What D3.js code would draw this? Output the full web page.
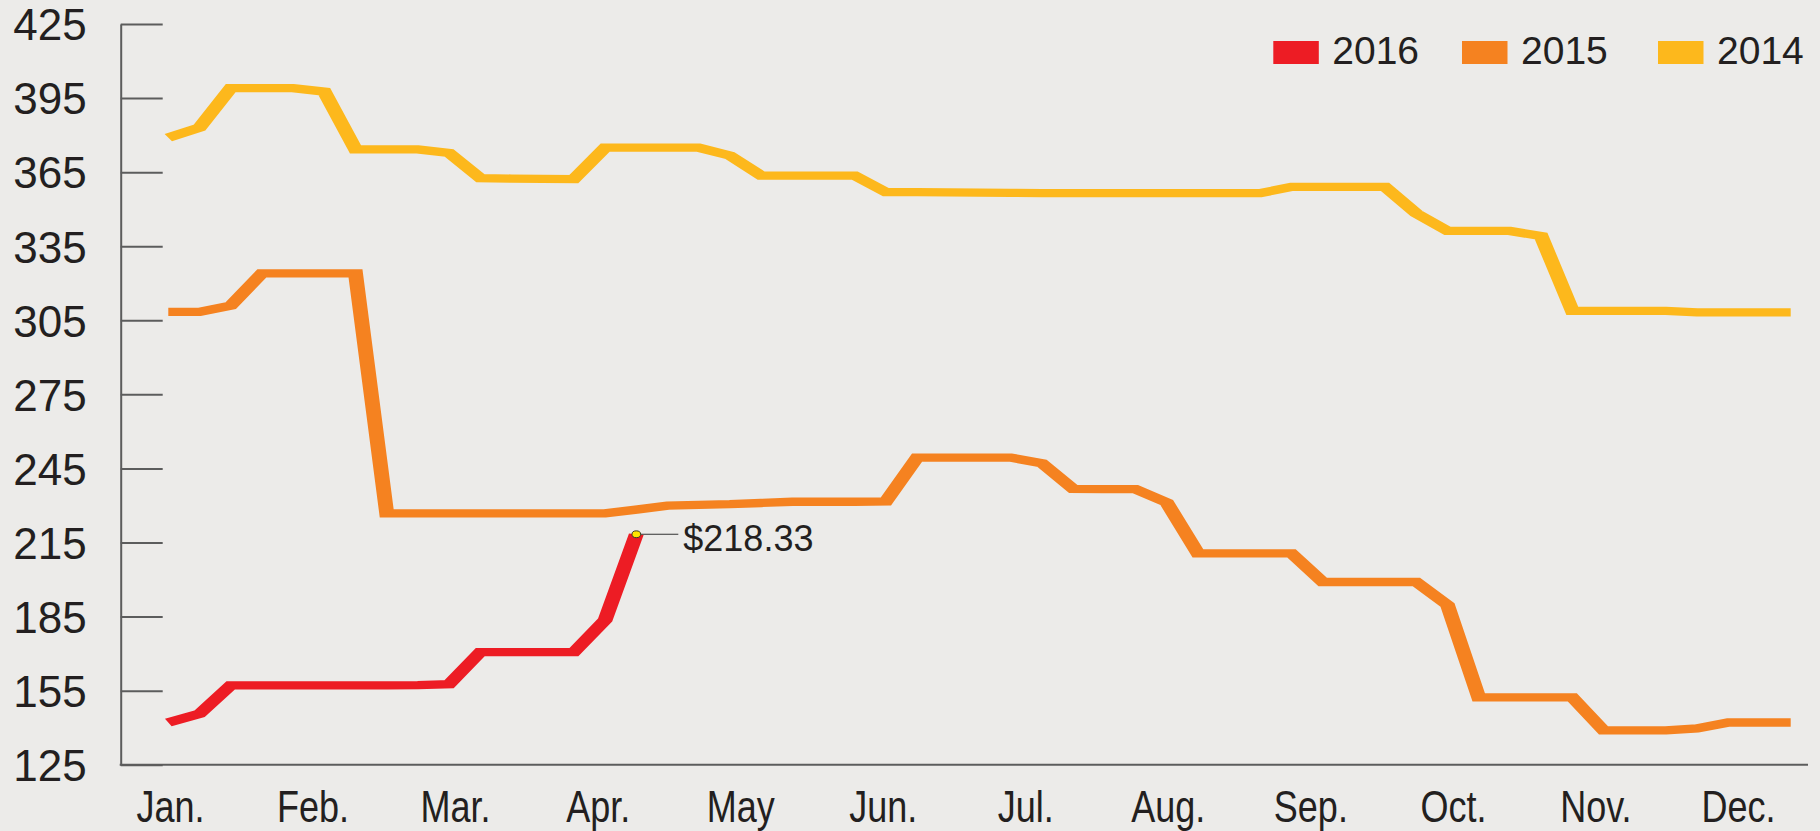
<!DOCTYPE html>
<html>
<head>
<meta charset="utf-8">
<script src="https://cdn.jsdelivr.net/npm/d3@7"></script>
<style>
  html, body { margin: 0; padding: 0; background: #ECEBE9; }
  svg { display: block; }
</style>
</head>
<body>
<script>
// ---------- data ----------
const months = ["Jan.", "Feb.", "Mar.", "Apr.", "May", "Jun.", "Jul.", "Aug.", "Sep.", "Oct.", "Nov.", "Dec."];
const yTicks = [125, 155, 185, 215, 245, 275, 305, 335, 365, 395, 425];
const seriesNames = ["2016", "2015", "2014"];
const seriesColors = ["#ED1C24", "#F58220", "#FDB81C"];

// weekly values (week 0 .. 52)
const values2014 = [379.0, 383.0, 399.0, 399.0, 399.0, 397.6, 374.2, 374.2, 374.2, 372.8,
  362.6, 362.4, 362.3, 362.2, 374.9, 374.9, 374.9, 374.9, 371.7, 363.6,
  363.6, 363.6, 363.6, 356.9, 356.9, 356.8, 356.7, 356.6, 356.5, 356.5,
  356.5, 356.5, 356.5, 356.5, 356.5, 356.5, 359.0, 359.0, 359.0, 359.0,
  348.3, 341.2, 341.2, 341.2, 339.1, 308.8, 308.8, 308.8, 308.8, 308.2,
  308.2, 308.2, 308.2];
const values2015 = [308.4, 308.4, 310.9, 324.0, 324.0, 324.0, 324.0, 226.8, 226.8, 226.8,
  226.8, 226.8, 226.8, 226.8, 226.8, 228.3, 229.9, 230.2, 230.5, 231.0,
  231.5, 231.5, 231.5, 231.6, 249.4, 249.4, 249.4, 249.4, 247.1, 236.7,
  236.6, 236.6, 231.2, 210.6, 210.6, 210.6, 210.6, 199.0, 199.0, 199.0,
  199.0, 189.7, 152.3, 152.3, 152.3, 152.3, 138.9, 138.9, 138.9, 139.7,
  142.1, 142.1, 142.1];
const values2016 = [142.1, 145.6, 157.1, 157.1, 157.1, 157.1, 157.1, 157.1, 157.2, 157.6,
  170.6, 170.6, 170.6, 170.6, 183.6, 218.33];
const lastLabel = "$218.33";

// ---------- layout ----------
const W = 1820, H = 831;
const axisX = 120.7, axisTop = 24, axisBottom = 764.7, axisRight = 1808;
const SX = 1.8; // horizontal stretch of the line pen

const svg = d3.select("body").append("svg").attr("width", W).attr("height", H);
svg.append("rect").attr("width", W).attr("height", H).attr("fill", "#ECEBE9");

const x = d3.scaleLinear().domain([0, 52]).range([168.3, 1790.7]);
const y = d3.scaleLinear().domain([125, 425]).range([axisBottom, axisTop]);
const xm = d3.scalePoint().domain(months).range([170, 1738]);

const textColor = "#231F20";
const axisColor = "#5C5C5C";

// y axis
const yAxis = d3.axisLeft(y).tickValues(yTicks).tickSizeInner(-42).tickSizeOuter(0).tickPadding(34);
const gy = svg.append("g").attr("transform", `translate(${axisX},0)`).call(yAxis);
gy.select(".domain").attr("stroke", axisColor).attr("stroke-width", 2);
gy.selectAll(".tick line").attr("stroke", axisColor).attr("stroke-width", 2);
gy.selectAll(".tick text")
  .attr("fill", textColor)
  .style("font-family", "'Liberation Sans', Arial, sans-serif")
  .style("font-size", "44px")
  .attr("dy", "0.36em");

// bottom axis line
svg.append("line")
  .attr("x1", axisX - 1).attr("x2", axisRight)
  .attr("y1", axisBottom).attr("y2", axisBottom)
  .attr("stroke", axisColor).attr("stroke-width", 2);

// month labels (condensed look)
const xAxis = d3.axisBottom(xm).tickSize(0).tickPadding(0);
const gx = svg.append("g").attr("transform", `translate(0,${axisBottom})`).call(xAxis);
gx.select(".domain").remove();
gx.selectAll(".tick text")
  .attr("fill", textColor)
  .attr("y", 0)
  .attr("dy", 0)
  .attr("transform", "translate(0,57) scale(0.8,1)")
  .style("font-family", "'Liberation Sans', Arial, sans-serif")
  .style("font-size", "45px");

// lines (drawn in a horizontally stretched group so the pen is wider than tall)
const lineGen = d3.line().x((d, i) => x(i) / SX).y(d => y(d));
const gl = svg.append("g").attr("transform", `scale(${SX},1)`);
const drawOrder = [[values2014, seriesColors[2]], [values2015, seriesColors[1]], [values2016, seriesColors[0]]];
drawOrder.forEach(([vals, col]) => {
  gl.append("path")
    .datum(vals)
    .attr("d", lineGen)
    .attr("fill", "none")
    .attr("stroke", col)
    .attr("stroke-width", 8.3)
    .attr("stroke-linejoin", "miter")
    .attr("stroke-miterlimit", 10)
    .attr("stroke-linecap", "butt");
});

// annotation of last 2016 value
const li = values2016.length - 1;
const px = x(li), py = y(values2016[li]);
svg.append("line")
  .attr("x1", px).attr("x2", px + 42)
  .attr("y1", py).attr("y2", py)
  .attr("stroke", "#333").attr("stroke-width", 1.2);
svg.append("ellipse")
  .attr("cx", px).attr("cy", py).attr("rx", 4.3).attr("ry", 3.4)
  .attr("fill", "#FFE500").attr("stroke", "#3a3a2a").attr("stroke-width", 1);
svg.append("text")
  .attr("x", px + 47).attr("y", py + 17)
  .attr("fill", textColor)
  .style("font-family", "'Liberation Sans', Arial, sans-serif")
  .style("font-size", "36px")
  .text(lastLabel);

// legend
const legendX = [1273.3, 1462, 1658];
const lg = svg.append("g");
seriesNames.forEach((name, i) => {
  lg.append("rect")
    .attr("x", legendX[i]).attr("y", 41)
    .attr("width", 45.5).attr("height", 23)
    .attr("fill", seriesColors[i]);
  lg.append("text")
    .attr("x", legendX[i] + 59).attr("y", 64)
    .attr("fill", textColor)
    .style("font-family", "'Liberation Sans', Arial, sans-serif")
    .style("font-size", "39px")
    .text(name);
});
</script>
</body>
</html>
